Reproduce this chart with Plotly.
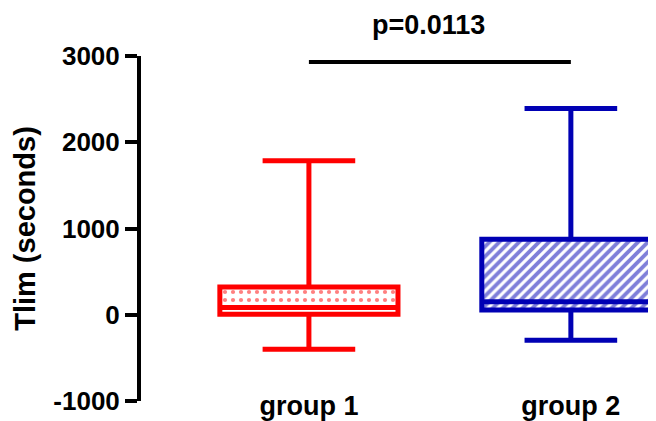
import plotly.graph_objects as go

categories = ["group 1", "group 2"]
lower_whisker = [-400, -295]
q1_values = [5, 55]
median_values = [85, 150]
q3_values = [322, 875]
upper_whisker = [1785, 2392]
colors = ["#ff0000", "#0000b4"]
patterns = [".", "/"]
sig_y = [2930, 2930]
p_text = "p=0.0113"
y_ticks = [-1000, 0, 1000, 2000, 3000]

fig = go.Figure()

# patterned box bodies
fig.add_trace(go.Bar(
    x=categories,
    base=q1_values,
    y=[q3 - q1 for q1, q3 in zip(q1_values, q3_values)],
    width=0.68,
    marker=dict(
        color="white",
        line=dict(width=0),
        pattern=dict(shape=patterns, fgcolor=colors, bgcolor="white",
                     size=[8, 7], solidity=[0.22, 0.55], fillmode="overlay"),
    ),
    showlegend=False,
    hoverinfo="skip",
))

for i, cat in enumerate(categories):
    fig.add_trace(go.Box(
        x=[cat],
        q1=[q1_values[i]],
        median=[median_values[i]],
        q3=[q3_values[i]],
        lowerfence=[lower_whisker[i]],
        upperfence=[upper_whisker[i]],
        width=0.68,
        whiskerwidth=0.52,
        line=dict(color=colors[i], width=5),
        fillcolor="rgba(0,0,0,0)",
        boxpoints=False,
        showlegend=False,
    ))

fig.add_trace(go.Scatter(
    x=categories, y=sig_y, mode="lines",
    line=dict(color="black", width=4),
    showlegend=False, hoverinfo="skip",
))

fig.add_annotation(
    text=p_text, xref="paper", yref="paper",
    x=0.559, y=1.136, xanchor="center", yanchor="top",
    showarrow=False, borderpad=0,
    font=dict(family="Liberation Sans, Arial", size=27, color="black", weight="bold"),
)

fig.update_layout(
    width=656, height=421,
    margin=dict(l=133, r=8, t=48, b=28),
    plot_bgcolor="white", paper_bgcolor="white",
    boxmode="overlay",
    font=dict(family="Liberation Sans, Arial", color="black"),
    xaxis=dict(
        type="category",
        range=[-0.641, 1.325],
        automargin=False,
        showline=False, showgrid=False, zeroline=False,
        ticks="", ticklabelstandoff=-14,
        tickfont=dict(size=27, weight="bold", color="black"),
    ),
    yaxis=dict(
        range=[-1000, 3000],
        automargin=False,
        tickvals=y_ticks,
        ticktext=[str(v) for v in y_ticks],
        showline=True, linecolor="black", linewidth=4,
        ticks="outside", ticklen=12, tickwidth=4, tickcolor="black",
        showgrid=False, zeroline=False,
        tickfont=dict(size=26, weight="bold", color="black"),
        title=dict(text="Tlim (seconds)", standoff=10,
                   font=dict(size=29, weight="bold", color="black")),
    ),
)

fig.write_html("out.html")
